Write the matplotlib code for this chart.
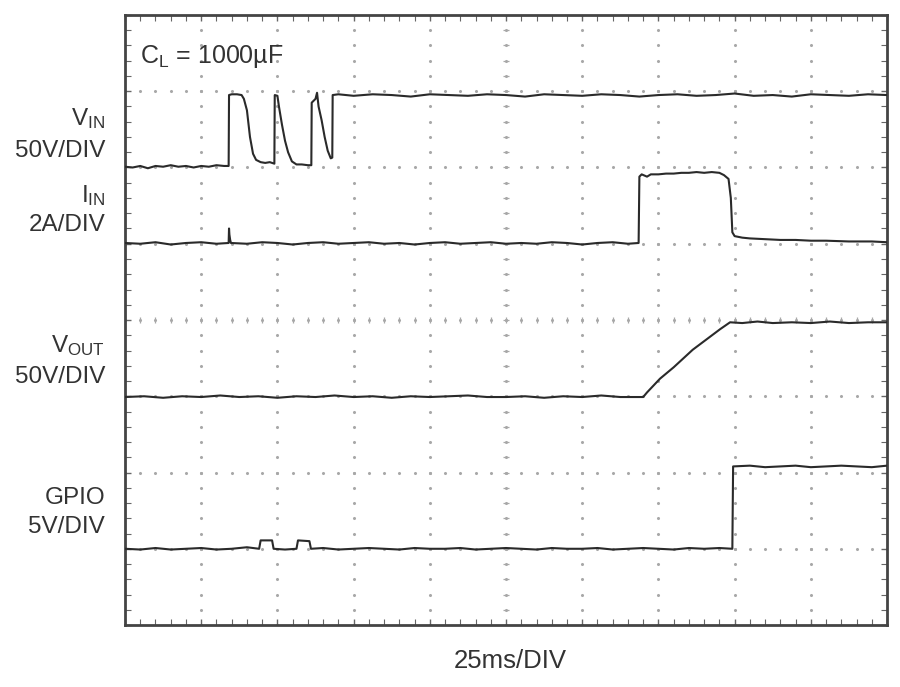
import numpy as np
import matplotlib
matplotlib.use("Agg")
import matplotlib.pyplot as plt

plt.rcParams['font.family'] = ['Liberation Sans', 'DejaVu Sans']
plt.rcParams['mathtext.fontset'] = 'custom'
plt.rcParams['mathtext.rm'] = 'Liberation Sans'

# scope traces, x and y in divisions (10 x 8 screen)
vin_x = [0, 0.1, 0.2, 0.3, 0.4, 0.5, 0.6, 0.7, 0.8, 0.9, 1.0, 1.1, 1.2, 1.3, 1.36,
         1.365, 1.40, 1.47, 1.53, 1.56, 1.60, 1.64, 1.68, 1.72, 1.78, 1.84, 1.90, 1.96,
         1.965, 2.00, 2.02, 2.06, 2.10, 2.14, 2.19, 2.25, 2.32, 2.40, 2.445,
         2.45, 2.50, 2.52, 2.54, 2.58, 2.62, 2.66, 2.70, 2.72,
         2.725, 2.8, 3.0, 3.25, 3.5, 3.75, 4.0, 4.25, 4.5, 4.75, 5.0, 5.25, 5.5, 5.75,
         6.0, 6.25, 6.5, 6.75, 7.0, 7.25, 7.5, 7.75, 8.0, 8.25, 8.5, 8.75, 9.0, 9.25,
         9.5, 9.75, 10.0]
vin_y = [6.01, 6.00, 6.02, 5.99, 6.02, 6.01, 6.03, 6.01, 6.02, 6.00, 6.02, 6.01, 6.03, 6.02, 6.02,
         6.95, 6.96, 6.96, 6.95, 6.90, 6.75, 6.40, 6.18, 6.10, 6.07, 6.06, 6.07, 6.05,
         6.95, 6.94, 6.80, 6.56, 6.35, 6.20, 6.08, 6.04, 6.04, 6.03, 6.03,
         6.85, 6.90, 6.98, 6.80, 6.62, 6.40, 6.22, 6.12, 6.13,
         6.95, 6.96, 6.94, 6.96, 6.95, 6.93, 6.96, 6.95, 6.94, 6.96, 6.95, 6.93, 6.96, 6.95,
         6.94, 6.96, 6.95, 6.93, 6.95, 6.96, 6.94, 6.95, 6.97, 6.94, 6.95, 6.93, 6.96, 6.95,
         6.94, 6.96, 6.95]

iin_x = [0, 0.2, 0.4, 0.6, 0.8, 1.0, 1.2, 1.36, 1.365, 1.37, 1.38, 1.39, 1.6, 1.8, 2.0,
         2.2, 2.4, 2.6, 2.8, 3.0, 3.2, 3.4, 3.6, 3.8, 4.0, 4.2, 4.4, 4.6, 4.8, 5.0, 5.2,
         5.4, 5.6, 5.8, 6.0, 6.2, 6.4, 6.6, 6.74,
         6.75, 6.78, 6.85, 6.9, 7.0, 7.1, 7.2, 7.3, 7.4, 7.5, 7.6, 7.7, 7.8, 7.86, 7.92,
         7.95, 7.97, 8.0, 8.1, 8.2, 8.4, 8.6, 8.8, 9.0, 9.2, 9.5, 9.8, 10.0]
iin_y = [5.01, 5.00, 5.02, 4.99, 5.01, 5.02, 5.00, 5.01, 5.20, 5.12, 5.05, 5.01, 5.00, 5.02,
         5.01, 4.99, 5.01, 5.02, 5.00, 5.01, 5.02, 5.00, 5.01, 4.99, 5.01, 5.02, 5.00,
         5.01, 5.02, 5.00, 5.01, 5.00, 5.02, 5.01, 4.99, 5.01, 5.02, 5.00, 5.01,
         5.88, 5.91, 5.88, 5.91, 5.91, 5.92, 5.92, 5.93, 5.93, 5.94, 5.93, 5.94, 5.93,
         5.90, 5.85, 5.60, 5.15, 5.10, 5.08, 5.07, 5.06, 5.05, 5.05, 5.04, 5.04, 5.03,
         5.03, 5.02]

vout_x = [0, 0.25, 0.5, 0.75, 1.0, 1.25, 1.5, 1.75, 2.0, 2.25, 2.5, 2.75, 3.0, 3.25,
          3.5, 3.75, 4.0, 4.25, 4.5, 4.75, 5.0, 5.25, 5.5, 5.75, 6.0, 6.25, 6.5, 6.8,
          6.85, 7.02, 7.2, 7.45, 7.65, 7.81, 7.94, 8.1, 8.3, 8.5, 8.75, 9.0, 9.25, 9.5,
          9.75, 10.0]
vout_y = [2.99, 3.00, 2.98, 3.00, 2.99, 3.01, 2.99, 3.00, 2.98, 3.00, 2.99, 3.01, 2.99,
          3.00, 2.98, 3.00, 2.99, 3.00, 3.01, 2.99, 2.99, 3.00, 2.98, 3.00, 2.99, 3.01,
          2.99, 2.99, 3.05, 3.23, 3.38, 3.61, 3.76, 3.88, 3.97, 3.96, 3.98, 3.96, 3.97,
          3.96, 3.98, 3.96, 3.97, 3.97]

gpio_x = [0, 0.2, 0.4, 0.6, 0.8, 1.0, 1.2, 1.4, 1.6, 1.76, 1.78, 1.93, 1.95, 2.1, 2.25,
          2.27, 2.42, 2.44, 2.6, 2.8, 3.0, 3.2, 3.4, 3.6, 3.8, 4.0, 4.2, 4.4, 4.6, 4.8,
          5.0, 5.2, 5.4, 5.6, 5.8, 6.0, 6.2, 6.4, 6.6, 6.8, 7.0, 7.2, 7.4, 7.6, 7.8, 7.97,
          7.98, 8.2, 8.4, 8.6, 8.8, 9.0, 9.2, 9.4, 9.6, 9.8, 10.0]
gpio_y = [1.00, 0.99, 1.01, 0.99, 1.00, 1.01, 0.99, 1.00, 1.02, 1.00, 1.11, 1.11, 1.00,
          0.99, 1.00, 1.11, 1.10, 1.00, 1.01, 0.99, 1.00, 1.01, 1.00, 0.99, 1.01, 1.00,
          1.00, 1.01, 0.99, 1.00, 1.01, 1.00, 0.99, 1.01, 1.00, 1.00, 1.01, 0.99, 1.00,
          1.01, 1.00, 0.99, 1.01, 1.00, 1.01, 1.00,
          2.08, 2.09, 2.07, 2.08, 2.09, 2.07, 2.08, 2.09, 2.08, 2.07, 2.09]

trace_labels = [(r'$\mathregular{V_{IN}}$', 6.64), ('50V/DIV', 6.22),
                (r'$\mathregular{I_{IN}}$', 5.63), ('2A/DIV', 5.25),
                (r'$\mathregular{V_{OUT}}$', 3.66), ('50V/DIV', 3.25),
                ('GPIO', 1.67), ('5V/DIV', 1.28)]

fig = plt.figure(figsize=(9, 6.87), dpi=100)
ax = fig.add_axes([0.1389, 0.0902, 0.8467, 0.888])
ax.set_xlim(0, 10)
ax.set_ylim(0, 8)

grid_col = '#a8a8a8'
# dotted graticule
for gx in range(1, 10):
    ax.plot(np.full(41, gx), np.linspace(0, 8, 41), ls='none', marker='o', ms=1.2,
            color=grid_col, zorder=1)
for gy in range(1, 8):
    ax.plot(np.linspace(0, 10, 51), np.full(51, gy), ls='none', marker='o', ms=1.2,
            color=grid_col, zorder=1)
# centre cross ticks
ax.plot(np.linspace(0, 10, 51), np.full(51, 4), ls='none', marker='|', ms=5,
        mew=0.9, color=grid_col, zorder=1)
ax.plot(np.full(41, 5), np.linspace(0, 8, 41), ls='none', marker='_', ms=5,
        mew=0.9, color=grid_col, zorder=1)

for spine in ax.spines.values():
    spine.set_linewidth(2)
    spine.set_color('#444444')
ax.set_xticks(np.arange(0, 11, 1))
ax.set_yticks(np.arange(0, 9, 1))
ax.set_xticks(np.arange(0, 10.01, 0.2), minor=True)
ax.set_yticks(np.arange(0, 8.01, 0.2), minor=True)
ax.tick_params(which='both', direction='in', top=True, right=True,
               labelbottom=False, labelleft=False, color='#666666')
ax.tick_params(which='major', length=4, width=1)
ax.tick_params(which='minor', length=4, width=0.8)

tc = '#2a2a2a'
for xs, ys in [(vin_x, vin_y), (iin_x, iin_y), (vout_x, vout_y), (gpio_x, gpio_y)]:
    ax.plot(xs, ys, color=tc, lw=1.5, zorder=3)

txt_col = '#333333'
for lab, yy in trace_labels:
    ax.text(-0.26, yy, lab, ha='right', va='center', fontsize=17.5, color=txt_col,
            clip_on=False)
ax.text(0.2, 7.45, r'$\mathregular{C_L}$ = 1000µF', ha='left', va='center',
        fontsize=18, color=txt_col)
ax.text(5.05, -0.47, '25ms/DIV', ha='center', va='center', fontsize=18.5,
        color=txt_col, clip_on=False)

fig.savefig('out.png', dpi=100)
